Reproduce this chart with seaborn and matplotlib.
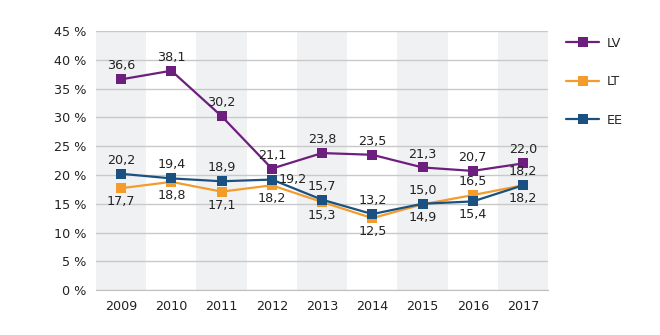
import matplotlib
matplotlib.use("Agg")
import matplotlib.pyplot as plt
import seaborn as sns
import pandas as pd
from matplotlib.lines import Line2D

years = [2009, 2010, 2011, 2012, 2013, 2014, 2015, 2016, 2017]
lv = [36.6, 38.1, 30.2, 21.1, 23.8, 23.5, 21.3, 20.7, 22.0]
lt = [17.7, 18.8, 17.1, 18.2, 15.3, 12.5, 14.9, 16.5, 18.2]
ee = [20.2, 19.4, 18.9, 19.2, 15.7, 13.2, 15.0, 15.4, 18.2]
series_names = ["LV", "LT", "EE"]
colors = {"LV": "#6c1f7d", "LT": "#f39c2b", "EE": "#1a5180"}
yticks = [0, 5, 10, 15, 20, 25, 30, 35, 40, 45]

# label placement: 'a' above, 'b' below, 'r' right
lv_pos = ["a"] * 9
lt_pos = ["b", "b", "b", "b", "b", "b", "b", "a", "b"]
ee_pos = ["a", "a", "a", "r", "a", "a", "a", "b", "a"]

df = pd.DataFrame({
    "year": years * 3,
    "value": lv + lt + ee,
    "series": ["LV"] * 9 + ["LT"] * 9 + ["EE"] * 9,
})

sns.set_style("white")
plt.rcParams["font.family"] = ["DejaVu Sans"]

fig = plt.figure(figsize=(6.6, 3.35), dpi=100)
ax = fig.add_axes([0.1455, 0.134, 0.685, 0.7735])

for i, y in enumerate(years):
    if i % 2 == 0:
        ax.axvspan(y - 0.5, y + 0.5, color="#f0f1f3", zorder=0, lw=0)

for t in yticks:
    ax.axhline(t, color="#c9c9c9", lw=1, zorder=1)

sns.lineplot(data=df, x="year", y="value", hue="series", hue_order=series_names,
             palette=colors, marker="s", markersize=6.5, markeredgewidth=0,
             linewidth=1.6, ax=ax, legend=False, zorder=3)

def fmt(v):
    return f"{v:.1f}".replace(".", ",")

fs = 9.2
for vals, pos in [(lv, lv_pos), (lt, lt_pos), (ee, ee_pos)]:
    for x, v, p in zip(years, vals, pos):
        if p == "a":
            ax.annotate(fmt(v), (x, v), xytext=(0, 5), textcoords="offset points",
                        ha="center", va="bottom", fontsize=fs, color="#222222", zorder=4)
        elif p == "b":
            ax.annotate(fmt(v), (x, v), xytext=(0, -5), textcoords="offset points",
                        ha="center", va="top", fontsize=fs, color="#222222", zorder=4)
        else:
            ax.annotate(fmt(v), (x, v), xytext=(5, 0), textcoords="offset points",
                        ha="left", va="center", fontsize=fs, color="#222222", zorder=4)

ax.set_xlim(years[0] - 0.5, years[-1] + 0.5)
ax.set_ylim(0, 45)
ax.set_yticks(yticks)
ax.set_yticklabels([f"{t} %" for t in yticks])
ax.set_xticks(years)
ax.set_xticklabels([str(y) for y in years])
ax.tick_params(axis="both", labelsize=fs, colors="#222222", length=0, pad=7)
ax.set_xlabel("")
ax.set_ylabel("")
for s in ["top", "left", "right"]:
    ax.spines[s].set_visible(False)
ax.spines["bottom"].set_color("#bfbfbf")
ax.spines["bottom"].set_zorder(2)

handles = [Line2D([0], [0], color=colors[n], lw=1.6, marker="s", markersize=6.5,
                  markeredgewidth=0) for n in series_names]
fig.legend(handles, series_names, loc="upper left", bbox_to_anchor=(0.84, 0.925),
           frameon=False, fontsize=fs, labelspacing=2.0, handlelength=2.6,
           handletextpad=0.6)

fig.savefig("out.png", dpi=100)
